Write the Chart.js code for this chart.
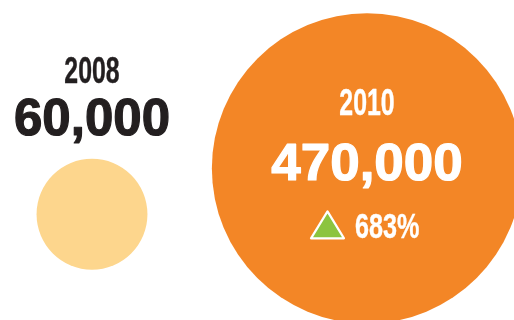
<!DOCTYPE html>
<html>
<head>
<meta charset="utf-8">
<script src="https://cdn.jsdelivr.net/npm/chart.js@4/dist/chart.umd.min.js"></script>
<style>
  html, body { margin: 0; padding: 0; background: #ffffff; }
  #wrap { width: 514px; height: 320px; }
</style>
</head>
<body>
<div id="wrap"><canvas id="c" width="514" height="320"></canvas></div>
<script>
// ---- data ----
const years = ['2008', '2010'];
const values = [60000, 470000];
const valueLabels = ['60,000', '470,000'];
const changeLabels = ['', '683%'];

// ---- styles ----
const fillColors = ['#FDD68D', '#F38626'];
const textColors = ['#231F20', '#FFFFFF'];
const GREEN = '#8CC43F';
const RADIUS_PER_SQRT = 0.2263; // bubble area proportional to value

function drawText(ctx, txt, x, y, font, sx, color, align, thicken) {
  ctx.save();
  ctx.font = font;
  ctx.fillStyle = color;
  ctx.textAlign = align || 'center';
  ctx.textBaseline = 'alphabetic';
  ctx.translate(x, y);
  ctx.scale(sx, 1);
  ctx.fillText(txt, 0, 0);
  if (thicken) {
    ctx.strokeStyle = color;
    ctx.lineWidth = thicken;
    ctx.lineJoin = 'round';
    ctx.strokeText(txt, 0, 0);
  }
  ctx.restore();
}

const labelPlugin = {
  id: 'bubbleLabels',
  afterDatasetsDraw(chart) {
    const ctx = chart.ctx;
    const meta = chart.getDatasetMeta(0);
    const COND = 'bold 36px "Liberation Sans", Arial, sans-serif';
    const BIG = 'bold 51px "Liberation Sans", Arial, sans-serif';
    meta.data.forEach((el, i) => {
      const r = el.options.radius;
      const cx = el.x, cy = el.y;
      const col = textColors[i];
      if (r < 100) {
        // labels above the bubble
        drawText(ctx, years[i], cx, cy - r - 76, COND, 0.69, col, 'center', 0.4);
        drawText(ctx, valueLabels[i], cx, cy - r - 24, BIG, 1.0, col, 'center', 1.2);
      } else {
        drawText(ctx, years[i], cx, cy - 53, COND, 0.69, col, 'center', 0.4);
        drawText(ctx, valueLabels[i], cx, cy + 12, 'bold 52px "Liberation Sans", Arial, sans-serif', 1.02, col, 'center', 1.2);
        // change indicator
        ctx.save();
        ctx.beginPath();
        ctx.moveTo(cx - 39.5, cy + 43);
        ctx.lineTo(cx - 56, cy + 70);
        ctx.lineTo(cx - 23, cy + 70);
        ctx.closePath();
        ctx.fillStyle = GREEN;
        ctx.fill();
        ctx.strokeStyle = '#FFFFFF';
        ctx.lineWidth = 2.2;
        ctx.lineJoin = 'round';
        ctx.stroke();
        ctx.restore();
        drawText(ctx, changeLabels[i], cx - 12, cy + 70, 'bold 35px "Liberation Sans", Arial, sans-serif', 0.72, col, 'left', 0.4);
      }
    });
  }
};

new Chart(document.getElementById('c'), {
  type: 'bubble',
  data: {
    labels: years,
    datasets: [{
      data: years.map((yr, i) => ({ x: yr, y: values[i], r: RADIUS_PER_SQRT * Math.sqrt(values[i]) })),
      backgroundColor: fillColors,
      borderWidth: 0,
      hoverBorderWidth: 0,
      clip: false
    }]
  },
  options: {
    responsive: false,
    animation: false,
    events: [],
    layout: { autoPadding: false, padding: { left: 92, right: 147, top: 165, bottom: 99 } },
    plugins: { legend: { display: false }, tooltip: { enabled: false } },
    scales: {
      x: { type: 'category', labels: years, offset: false, display: false },
      y: { type: 'linear', min: 0, max: 500000, display: false }
    }
  },
  plugins: [labelPlugin]
});
</script>
</body>
</html>
